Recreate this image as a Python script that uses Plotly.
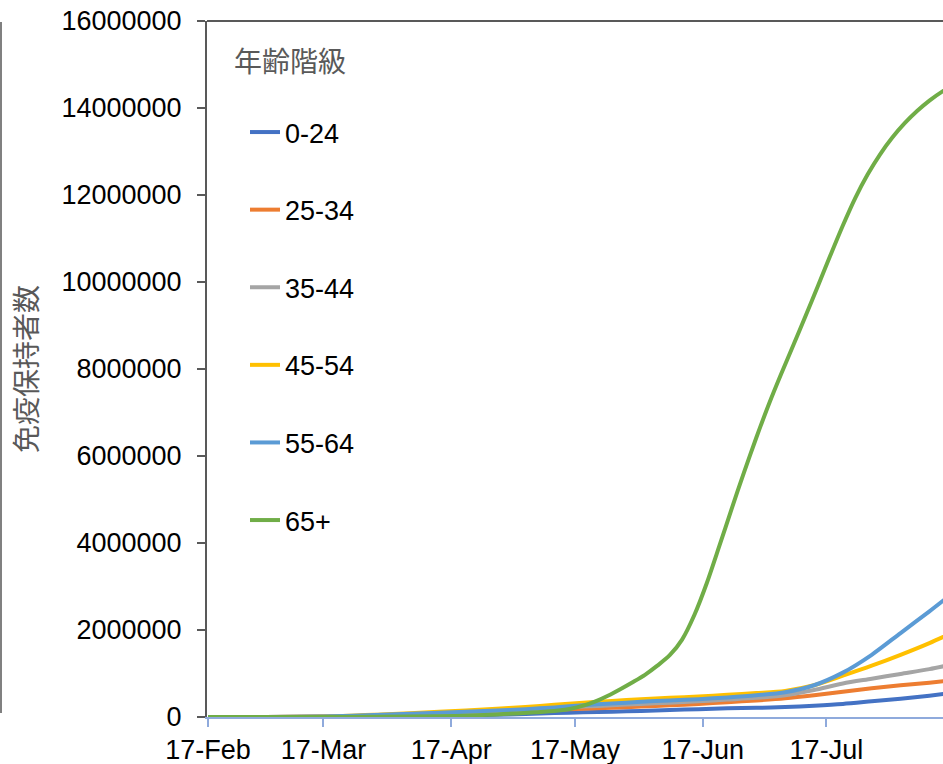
import plotly.graph_objects as go
import pandas as pd

# ---- data (values in millions of people) ----
dates = ["2021-02-17", "2021-03-03", "2021-03-17", "2021-03-31", "2021-04-14",
         "2021-04-28", "2021-05-05", "2021-05-12", "2021-05-19", "2021-05-26",
         "2021-06-02", "2021-06-09", "2021-06-16", "2021-06-23", "2021-06-30",
         "2021-07-07", "2021-07-14", "2021-07-21", "2021-07-28", "2021-08-04",
         "2021-08-11", "2021-08-18"]

age_0_24 = [0, 0, 0.005, 0.015, 0.03, 0.05, 0.07, 0.09, 0.11, 0.12, 0.14, 0.16,
            0.18, 0.20, 0.21, 0.23, 0.26, 0.30, 0.36, 0.42, 0.49, 0.57]
age_25_34 = [0, 0, 0.01, 0.03, 0.06, 0.10, 0.13, 0.16, 0.19, 0.21, 0.24, 0.27,
             0.30, 0.34, 0.38, 0.43, 0.50, 0.58, 0.66, 0.73, 0.79, 0.86]
age_35_44 = [0, 0, 0.01, 0.04, 0.08, 0.13, 0.16, 0.20, 0.24, 0.27, 0.30, 0.33,
             0.36, 0.40, 0.44, 0.50, 0.62, 0.77, 0.88, 0.99, 1.10, 1.24]
age_45_54 = [0, 0, 0.01, 0.06, 0.12, 0.19, 0.23, 0.28, 0.33, 0.37, 0.41, 0.44,
             0.47, 0.51, 0.55, 0.60, 0.73, 0.95, 1.18, 1.43, 1.70, 2.00]
age_55_64 = [0, 0, 0.01, 0.05, 0.10, 0.15, 0.18, 0.22, 0.27, 0.31, 0.35, 0.38,
             0.41, 0.45, 0.50, 0.57, 0.73, 1.02, 1.43, 1.93, 2.43, 2.95]

dates_65 = ["2021-02-17", "2021-03-17", "2021-04-14", "2021-04-28", "2021-05-13",
            "2021-05-16", "2021-05-19", "2021-05-22", "2021-05-25", "2021-05-28",
            "2021-05-31", "2021-06-03", "2021-06-06", "2021-06-09", "2021-06-12",
            "2021-06-15", "2021-06-18", "2021-06-21", "2021-06-24", "2021-06-27",
            "2021-06-30", "2021-07-03", "2021-07-06", "2021-07-09", "2021-07-12",
            "2021-07-15", "2021-07-18", "2021-07-21", "2021-07-24", "2021-07-27",
            "2021-07-30", "2021-08-02", "2021-08-05", "2021-08-08", "2021-08-11",
            "2021-08-14", "2021-08-17", "2021-08-20"]
age_65_plus = [0, 0, 0.02, 0.06, 0.15,
               0.19, 0.26, 0.36, 0.49, 0.64,
               0.80, 0.97, 1.18, 1.42, 1.78,
               2.35, 3.08, 3.92, 4.78, 5.62,
               6.42, 7.18, 7.88, 8.55, 9.23,
               9.92, 10.62, 11.30, 11.93, 12.47,
               12.93, 13.32, 13.65, 13.93, 14.17,
               14.37, 14.53, 14.66]

series_names = ["0-24", "25-34", "35-44", "45-54", "55-64", "65+"]
series_dates = [dates, dates, dates, dates, dates, dates_65]
series_values = [age_0_24, age_25_34, age_35_44, age_45_54, age_55_64, age_65_plus]
series_colors = ["#4472C4", "#ED7D31", "#A5A5A5", "#FFC000", "#5B9BD5", "#70AD47"]

x_tickvals = ["2021-02-17", "2021-03-17", "2021-04-17", "2021-05-17", "2021-06-17", "2021-07-17"]
x_ticktext = ["17-Feb", "17-Mar", "17-Apr", "17-May", "17-Jun", "17-Jul"]
y_tickvals = [0, 2000000, 4000000, 6000000, 8000000, 10000000, 12000000, 14000000, 16000000]
y_ticktext = [str(v) for v in y_tickvals]

legend_title = "年齢階級"
y_title = "免疫保持者数"

FONT = "Liberation Sans, Arial, sans-serif"
CJK = "Noto Sans CJK JP, Noto Sans CJK SC, sans-serif"
PLOT_W = 943 - 207
PLOT_H = 717 - 21

fig = go.Figure()
for name, d, vals, col in zip(series_names, series_dates, series_values, series_colors):
    fig.add_trace(go.Scatter(
        x=pd.to_datetime(d), y=[v * 1_000_000 for v in vals], name=name, mode="lines",
        line=dict(color=col, width=4, shape="spline", smoothing=0.8),
        legendgroup=name,
    ))

fig.update_layout(
    width=943, height=764,
    margin=dict(l=207, r=0, t=21, b=47, pad=0, autoexpand=False),
    paper_bgcolor="white", plot_bgcolor="white",
    font=dict(family=FONT, size=27, color="#000000"),
    showlegend=True,
    legend=dict(
        x=(250 - 207 - 5) / PLOT_W, y=(717 - 108) / PLOT_H, xanchor="left", yanchor="top",
        bgcolor="rgba(0,0,0,0)", borderwidth=0,
        font=dict(family=FONT, size=27, color="#000000"),
        tracegroupgap=39.5,
        itemwidth=30,
    ),
    xaxis=dict(
        type="date",
        range=["2021-02-16 18:00", "2021-08-14 07:00"],
        tickvals=x_tickvals, ticktext=x_ticktext,
        showgrid=False, zeroline=False,
        showline=True, linecolor="#8FAADC", linewidth=2,
        ticks="outside", ticklen=8, tickwidth=2, tickcolor="#8FAADC",
        tickfont=dict(family=FONT, size=27, color="#000000"),
        automargin=False,
    ),
    yaxis=dict(
        range=[0, 16000000],
        tickvals=y_tickvals, ticktext=y_ticktext,
        showgrid=False, zeroline=False,
        showline=True, linecolor="#595959", linewidth=2,
        ticks="outside", ticklen=8, tickwidth=2, tickcolor="#595959",
        tickfont=dict(family=FONT, size=27, color="#000000"),
        ticklabelstandoff=10,
        title=dict(text=y_title, font=dict(family=CJK, size=28, color="#595959"), standoff=16),
        automargin=False,
    ),
    annotations=[dict(
        text=legend_title, xref="paper", yref="paper",
        x=(232 - 207) / PLOT_W, y=(717 - 60) / PLOT_H, xanchor="left", yanchor="middle",
        showarrow=False, font=dict(family=CJK, size=28, color="#595959"),
    )],
)

# top border of plot area
fig.add_shape(type="line", xref="paper", yref="paper", x0=0, x1=1, y0=1, y1=1,
              line=dict(color="#595959", width=2))
# left edge line (crop artifact of the original)
fig.add_shape(type="line", xref="paper", yref="paper", x0=(1 - 207) / PLOT_W, x1=(1 - 207) / PLOT_W,
              y0=(717 - 713) / PLOT_H, y1=(717 - 22) / PLOT_H, line=dict(color="#808080", width=2))

fig.write_html("out.html", config={"displayModeBar": False},
               post_script="document.body.style.margin='0px';")
